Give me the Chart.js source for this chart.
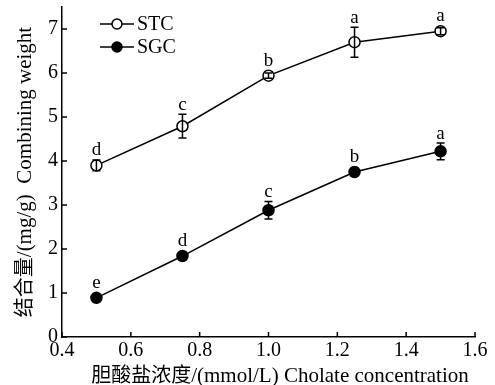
<!DOCTYPE html>
<html>
<head>
<meta charset="utf-8">
<script src="https://cdn.jsdelivr.net/npm/chart.js@4.4.1/dist/chart.umd.min.js"></script>
<style>
  html, body { margin: 0; padding: 0; background: #fff; }
  #wrap { width: 495px; height: 385px; }
</style>
</head>
<body>
<div id="wrap"><canvas id="chart" width="495" height="385"></canvas></div>
<script>
  // datos
  const concentraciones = [0.5, 0.75, 1.0, 1.25, 1.5];
  const stcValores = [3.90, 4.79, 5.94, 6.70, 6.95];
  const stcError = [0.12, 0.27, 0.06, 0.34, 0.08];
  const stcLetras = ['d', 'c', 'b', 'a', 'a'];
  const sgcValores = [0.89, 1.84, 2.88, 3.75, 4.22];
  const sgcError = [0.07, 0.05, 0.20, 0.08, 0.19];
  const sgcLetras = ['e', 'd', 'c', 'b', 'a'];
  const xTicks = [0.4, 0.6, 0.8, 1.0, 1.2, 1.4, 1.6];
  const yTicks = [0, 1, 2, 3, 4, 5, 6, 7];

  const FONT = "'Liberation Serif', 'Noto Sans CJK SC', serif";
  const CJK = "'Noto Sans CJK SC', sans-serif";
  const INK = '#000';

  // títulos: [texto, fuente, hueco antes]
  const xTitulo = [
    ['胆酸盐浓度', '20px ' + CJK, 0],
    ['/(mmol/L) Cholate concentration', '21px ' + FONT, 0],
  ];
  const yTitulo = [
    ['结合量', '20px ' + CJK, 0],
    ['/(mg/g)  Combining weight', '21px ' + FONT, 0],
  ];

  const toPoints = (vals) => vals.map((v, i) => ({ x: concentraciones[i], y: v }));

  // título por trozos, centrado en (cx, cy); rot = vertical
  function tituloMixto(ctx, partes, cx, cy, rot) {
    const anchos = partes.map(([t, f]) => { ctx.font = f; return ctx.measureText(t).width; });
    const total = partes.reduce((acc, p, i) => acc + p[2] + anchos[i], 0);
    ctx.save();
    ctx.translate(cx, cy);
    if (rot) ctx.rotate(-Math.PI / 2);
    ctx.textAlign = 'left';
    ctx.textBaseline = 'alphabetic';
    let x = -total / 2;
    partes.forEach(([t, f, hueco], i) => {
      x += hueco;
      ctx.font = f;
      ctx.fillText(t, x, 7);
      x += anchos[i];
    });
    ctx.restore();
  }

  // barras de error, letras, ticks hacia adentro, leyenda y títulos
  const extras = {
    id: 'extras',
    afterDatasetsDraw(chart) {
      const ctx = chart.ctx;
      const xs = chart.scales.x, ys = chart.scales.y;
      const series = [
        { vals: stcValores, err: stcError, letras: stcLetras },
        { vals: sgcValores, err: sgcError, letras: sgcLetras },
      ];
      ctx.save();
      ctx.strokeStyle = INK;
      ctx.fillStyle = INK;
      ctx.lineWidth = 1.5;
      series.forEach((s) => {
        s.vals.forEach((v, i) => {
          const px = xs.getPixelForValue(concentraciones[i]);
          const top = ys.getPixelForValue(v + s.err[i]);
          const bot = ys.getPixelForValue(v - s.err[i]);
          ctx.beginPath();
          ctx.moveTo(px, top); ctx.lineTo(px, bot);
          ctx.moveTo(px - 4, top); ctx.lineTo(px + 4, top);
          ctx.moveTo(px - 4, bot); ctx.lineTo(px + 4, bot);
          ctx.stroke();
          ctx.font = '19px ' + FONT;
          ctx.textAlign = 'center';
          ctx.textBaseline = 'alphabetic';
          ctx.fillText(s.letras[i], px, Math.min(top, ys.getPixelForValue(v) - 6) - 4);
        });
      });
      // ticks hacia adentro
      ctx.beginPath();
      xTicks.forEach((t) => {
        const px = xs.getPixelForValue(t);
        ctx.moveTo(px, xs.top); ctx.lineTo(px, xs.top - 5);
      });
      yTicks.forEach((t) => {
        const py = ys.getPixelForValue(t);
        ctx.moveTo(ys.right, py); ctx.lineTo(ys.right + 5, py);
      });
      ctx.stroke();
      // leyenda
      const items = [
        { label: 'STC', fill: '#fff', y: 24 },
        { label: 'SGC', fill: INK, y: 47 },
      ];
      items.forEach((it) => {
        ctx.beginPath();
        ctx.moveTo(100, it.y); ctx.lineTo(134, it.y);
        ctx.stroke();
        ctx.beginPath();
        ctx.arc(117, it.y, 5, 0, Math.PI * 2);
        ctx.fillStyle = it.fill;
        ctx.fill();
        ctx.stroke();
        ctx.fillStyle = INK;
        ctx.font = '20px ' + FONT;
        ctx.textAlign = 'left';
        ctx.textBaseline = 'middle';
        ctx.fillText(it.label, 137, it.y + 1);
      });
      // títulos de ejes
      tituloMixto(ctx, xTitulo, 280, 375, false);
      tituloMixto(ctx, yTitulo, 24, 172, true);
      ctx.restore();
    }
  };

  new Chart(document.getElementById('chart'), {
    type: 'line',
    data: {
      datasets: [
        {
          label: 'STC',
          data: toPoints(stcValores),
          borderColor: INK, borderWidth: 1.5,
          pointBackgroundColor: '#fff', pointBorderColor: INK,
          pointBorderWidth: 1.5, pointRadius: 5.5,
        },
        {
          label: 'SGC',
          data: toPoints(sgcValores),
          borderColor: INK, borderWidth: 1.5,
          pointBackgroundColor: INK, pointBorderColor: INK,
          pointBorderWidth: 1.5, pointRadius: 5.5,
        },
      ],
    },
    options: {
      responsive: false,
      animation: false,
      layout: { padding: { top: 5, right: 20, left: 0, bottom: 0 } },
      plugins: { legend: { display: false }, tooltip: { enabled: false } },
      scales: {
        x: {
          type: 'linear', min: 0.4, max: 1.6,
          afterBuildTicks: (s) => { s.ticks = xTicks.map((v) => ({ value: v })); },
          afterFit: (s) => { s.height = 48; },
          grid: { display: false, drawTicks: false },
          border: { color: INK, width: 1.5 },
          ticks: { color: INK, padding: 2, font: { family: FONT, size: 20 }, callback: (v) => Number(v).toFixed(1), maxRotation: 0 },
        },
        y: {
          min: 0, max: 7.5,
          afterBuildTicks: (s) => { s.ticks = yTicks.map((v) => ({ value: v })); },
          afterFit: (s) => { s.width = 62; s.paddingTop = 0; s.paddingBottom = 0; },
          grid: { display: false, drawTicks: false },
          border: { color: INK, width: 1.5 },
          ticks: { color: INK, padding: 4, font: { family: FONT, size: 20 } },
        },
      },
    },
    plugins: [extras],
  });
</script>
</body>
</html>
